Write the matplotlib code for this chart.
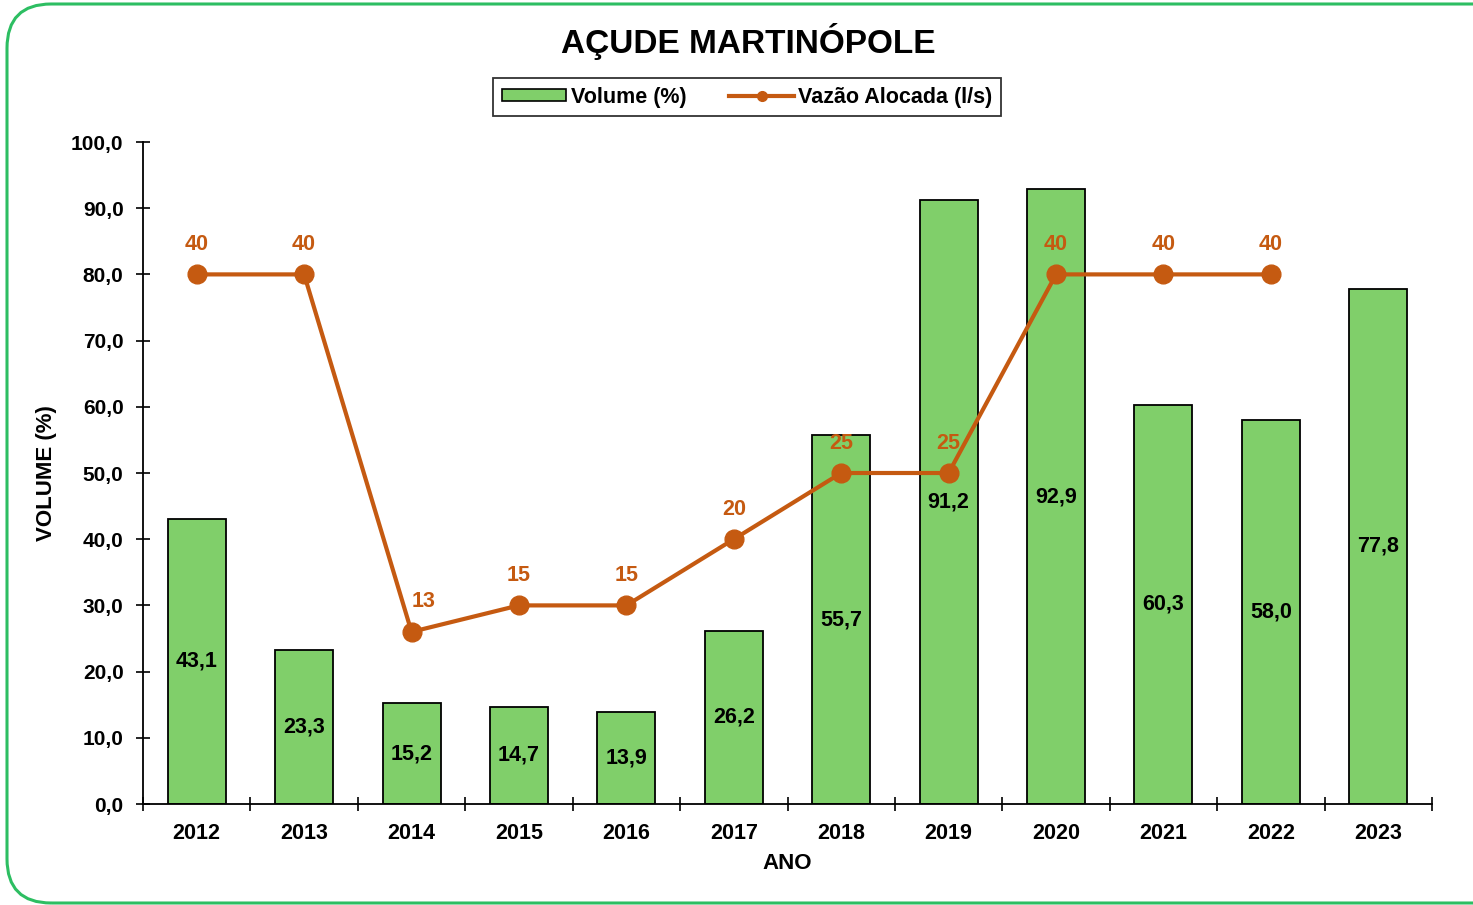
#!/usr/bin/env python3
"""Acude Martinopole - volume e vazao alocada"""

import matplotlib
matplotlib.use('Agg')
import matplotlib.pyplot as plt
from matplotlib.patches import FancyBboxPatch, Patch
from matplotlib.lines import Line2D
from matplotlib.ticker import FuncFormatter, FixedLocator
import numpy as np

anos = ['2012', '2013', '2014', '2015', '2016', '2017',
        '2018', '2019', '2020', '2021', '2022', '2023']
volume = [43.1, 23.3, 15.2, 14.7, 13.9, 26.2, 55.7, 91.2, 92.9, 60.3, 58.0, 77.8]
vazao = [40, 40, 13, 15, 15, 20, 25, 25, 40, 40, 40, None]

verde = '#80CF6A'
laranja = '#C55A11'

plt.rcParams['font.family'] = ['Liberation Sans', 'DejaVu Sans']
plt.rcParams['font.weight'] = 'bold'

W, H = 1473, 905
fig = plt.figure(figsize=(W / 100, H / 100), dpi=100)

# rounded green frame (right side runs off the canvas)
frame = FancyBboxPatch((7 / W, 2 / H), (1530 - 7) / W, (901 - 2) / H,
                       boxstyle='round,pad=0,rounding_size=0.03',
                       transform=fig.transFigure, facecolor='none',
                       edgecolor='#2DBE62', linewidth=2.2, mutation_aspect=W / H)
fig.patches.append(frame)

ax = fig.add_axes([143 / W, 1 - 804 / H, (1432 - 143) / W, (804 - 142) / H])
x = np.arange(len(anos))

ax.bar(x, volume, width=0.54, color=verde, edgecolor='black', linewidth=1.3, zorder=2)
for xi, v in zip(x, volume):
    ax.text(xi, v / 2, f'{v:.1f}'.replace('.', ','), ha='center', va='center',
            fontsize=15.5, fontweight='bold', color='black', zorder=5)

ax.set_xlim(-0.5, len(anos) - 0.5)
ax.set_ylim(0, 100)
ax.set_yticks(np.arange(0, 101, 10))
ax.yaxis.set_major_formatter(FuncFormatter(lambda v, p: f'{v:.1f}'.replace('.', ',')))
ax.set_xticks(x)
ax.set_xticklabels(anos)
ax.xaxis.set_minor_locator(FixedLocator(np.arange(-0.5, len(anos), 1.0)))
ax.tick_params(axis='x', which='major', length=0, pad=14, labelsize=15.5)
ax.tick_params(axis='x', which='minor', direction='inout', length=10, width=1.2)
ax.tick_params(axis='y', direction='inout', length=10, width=1.2, pad=9, labelsize=15)
for s in ['top', 'right']:
    ax.spines[s].set_visible(False)
for s in ['left', 'bottom']:
    ax.spines[s].set_linewidth(1.3)
ax.set_xlabel('ANO', fontsize=16, fontweight='bold', labelpad=6)
ax.set_ylabel('VOLUME (%)', fontsize=16, fontweight='bold', labelpad=10)

# vazao on a hidden secondary scale 0-50
ax2 = ax.twinx()
ax2.set_ylim(0, 50)
ax2.axis('off')
vx = [xi for xi, v in zip(x, vazao) if v is not None]
vy = [v for v in vazao if v is not None]
ax2.plot(vx, vy, color=laranja, linewidth=3, marker='o', markersize=13.5, zorder=4)
for i, (xi, v) in enumerate(zip(vx, vy)):
    dx = 9 if i == 2 else 0  # the 2014 label sits a little right of its point
    ax2.annotate(str(v), (xi, v), xytext=(dx, 14), textcoords='offset points',
                 ha='center', va='bottom', fontsize=15.5, fontweight='bold', color=laranja)

fig.text(748 / W, 1 - 42 / H, 'AÇUDE MARTINÓPOLE', ha='center', va='center',
         fontsize=24, fontweight='bold')

handles = [Patch(facecolor=verde, edgecolor='black', linewidth=1.2),
           Line2D([0], [0], color=laranja, linewidth=3, marker='o', markersize=7)]
leg = fig.legend(handles, ['Volume (%)', 'Vazão Alocada (l/s)'], loc='center',
                 bbox_to_anchor=(747 / W, 1 - 97 / H), ncol=2, frameon=True,
                 fancybox=False, edgecolor='black', fontsize=15.5, handlelength=3.0,
                 handleheight=0.5, handletextpad=0.2, columnspacing=2.0,
                 borderpad=0.4, borderaxespad=0)
leg.get_frame().set_linewidth(1.3)

fig.savefig('out.png', dpi=100)
